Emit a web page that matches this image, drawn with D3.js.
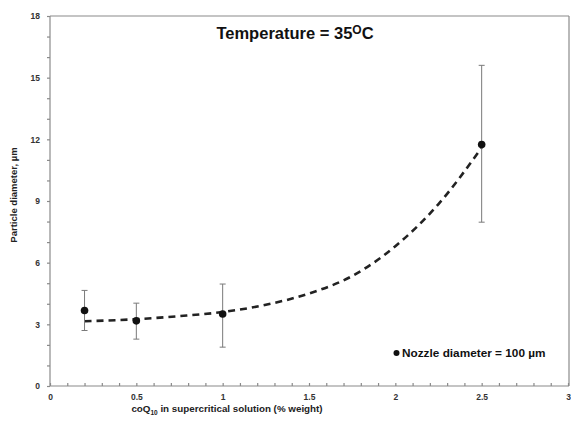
<!DOCTYPE html>
<html><head><meta charset="utf-8">
<script src="https://cdn.jsdelivr.net/npm/d3@7"></script>
<style>html,body{margin:0;padding:0;background:#fff;}svg{display:block;font-family:"Liberation Sans",Arial,sans-serif;}</style>
</head><body>
<svg id="c" width="571" height="425"></svg>
<script>
// data
const concentration = [0.2, 0.5, 1.0, 2.5];
const diameter = [3.67, 3.17, 3.5, 11.75];
const errLow = [2.7, 2.28, 1.89, 7.97];
const errHigh = [4.65, 4.03, 4.96, 15.6];
const trendX = [0.2, 0.5, 0.75, 1.0, 1.25, 1.5, 1.75, 2.0, 2.25, 2.5];
const trendY = [3.15, 3.25, 3.4, 3.6, 3.95, 4.5, 5.35, 6.8, 8.85, 11.6];
const xTicks = [0, 0.5, 1, 1.5, 2, 2.5, 3];
const xTickLabels = ["0", "0.5", "1", "1.5", "2", "2.5", "3"];
const yTicks = [0, 3, 6, 9, 12, 15, 18];
const legendLabel = "Nozzle diameter = 100 \u00b5m";

const svg = d3.select("#c");
const x = d3.scaleLinear().domain([0, 3]).range([50, 568]);
const y = d3.scaleLinear().domain([0, 18]).range([386, 16]);
const axisColor = "#8a8a8a";

// frame top & right
svg.append("line").attr("x1", x(0)).attr("x2", x(3) + 1).attr("y1", y(18)).attr("y2", y(18)).attr("stroke", axisColor).attr("stroke-width", 1.2);
svg.append("line").attr("x1", x(3) + 1).attr("x2", x(3) + 1).attr("y1", y(18)).attr("y2", y(0)).attr("stroke", axisColor).attr("stroke-width", 1.2);

// x axis: minor ticks every 0.1 pointing up
const xAx = svg.append("g").attr("transform", `translate(0,${y(0)})`)
  .call(d3.axisBottom(x).tickValues(d3.range(0, 31).map(d => d / 10)).tickSize(-3).tickFormat(""));
xAx.selectAll("path,line").attr("stroke", axisColor).attr("stroke-width", 1.2);
xAx.select(".domain").attr("d", `M${x(0)},0H${x(3) + 1}`);
const xLab = svg.append("g").attr("transform", `translate(0,${y(0)})`)
  .call(d3.axisBottom(x).tickValues(xTicks).tickSize(0).tickPadding(8).tickFormat((d, i) => xTickLabels[i]));
xLab.select(".domain").remove();
xLab.selectAll("text").attr("font-size", 8.5).attr("font-weight", "bold").attr("fill", "#333").attr("font-family", "Liberation Sans, Arial, sans-serif");

// y axis: ticks every 1 pointing left
const yAx = svg.append("g").attr("transform", `translate(${x(0)},0)`)
  .call(d3.axisLeft(y).tickValues(d3.range(0, 19)).tickSize(3).tickFormat(""));
yAx.selectAll("path,line").attr("stroke", axisColor).attr("stroke-width", 1.2);
yAx.select(".domain").attr("d", `M0,${y(0)}V${y(18)}`);
const yLab = svg.append("g").attr("transform", `translate(${x(0)},0)`)
  .call(d3.axisLeft(y).tickValues(yTicks).tickSize(0).tickPadding(10));
yLab.select(".domain").remove();
yLab.selectAll("text").attr("font-size", 8.5).attr("font-weight", "bold").attr("fill", "#333").attr("font-family", "Liberation Sans, Arial, sans-serif");

// trend line
const line = d3.line().x(d => x(d[0])).y(d => y(d[1])).curve(d3.curveMonotoneX);
svg.append("path").datum(trendX.map((v, i) => [v, trendY[i]]))
  .attr("d", line).attr("fill", "none").attr("stroke", "#222").attr("stroke-width", 2.6).attr("stroke-dasharray", "7,5");

// error bars
const eb = svg.append("g").attr("stroke", "#7a7a7a").attr("stroke-width", 1);
concentration.forEach((c, i) => {
  eb.append("line").attr("x1", x(c)).attr("x2", x(c)).attr("y1", y(errLow[i])).attr("y2", y(errHigh[i]));
  eb.append("line").attr("x1", x(c) - 3).attr("x2", x(c) + 3).attr("y1", y(errLow[i])).attr("y2", y(errLow[i]));
  eb.append("line").attr("x1", x(c) - 3).attr("x2", x(c) + 3).attr("y1", y(errHigh[i])).attr("y2", y(errHigh[i]));
});

// points
svg.append("g").selectAll("circle").data(concentration).join("circle")
  .attr("cx", d => x(d)).attr("cy", (d, i) => y(diameter[i])).attr("r", 3.8).attr("fill", "#111");

// title
const t = svg.append("text").attr("x", 295).attr("y", 39).attr("text-anchor", "middle")
  .attr("font-size", 16.5).attr("font-weight", "bold").attr("fill", "#111");
t.append("tspan").text("Temperature = 35");
t.append("tspan").attr("dy", -5).attr("font-size", 12).text("O");
t.append("tspan").attr("dy", 5).text("C");

// legend
svg.append("circle").attr("cx", 396.5).attr("cy", 353).attr("r", 3).attr("fill", "#111");
svg.append("text").attr("x", 402).attr("y", 357).attr("font-size", 11.8).attr("font-weight", "bold").attr("fill", "#111").text(legendLabel);

// axis titles
const xt = svg.append("text").attr("x", 227).attr("y", 412).attr("text-anchor", "middle")
  .attr("font-size", 9.8).attr("font-weight", "bold").attr("fill", "#222");
xt.append("tspan").text("coQ");
xt.append("tspan").attr("dy", 2.5).attr("font-size", 6.5).text("10");
xt.append("tspan").attr("dy", -2.5).text(" in supercritical solution (% weight)");
svg.append("text").attr("transform", "translate(17,195) rotate(-90)").attr("text-anchor", "middle")
  .attr("font-size", 9.5).attr("font-weight", "bold").attr("fill", "#222").text("Particle diameter, \u00b5m");
</script>
</body></html>
